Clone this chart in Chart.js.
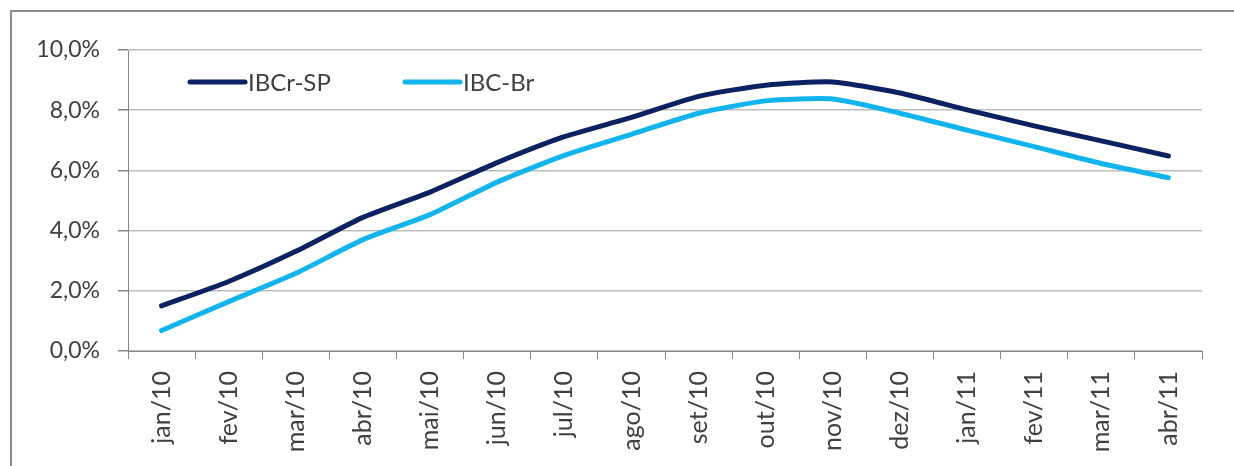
<!DOCTYPE html>
<html>
<head>
<meta charset="utf-8">
<script src="https://cdn.jsdelivr.net/npm/chart.js@4"></script>
<style>
  html, body { margin: 0; padding: 0; background: #fff; }
  #container { position: relative; width: 1234px; height: 466px; overflow: hidden; }
  #frame { position: absolute; left: 10px; top: 10px; right: 0; bottom: 0; border-left: 2px solid #8c8c8c; border-top: 2px solid #8c8c8c; }
  #chart { position: absolute; left: 0; top: 0; }
</style>
</head>
<body>
<div id="container">
  <div id="frame"></div>
  <canvas id="chart" width="1234" height="466"></canvas>
</div>
<script>
const months = ['jan/10', 'fev/10', 'mar/10', 'abr/10', 'mai/10', 'jun/10', 'jul/10', 'ago/10',
  'set/10', 'out/10', 'nov/10', 'dez/10', 'jan/11', 'fev/11', 'mar/11', 'abr/11'];
const ibcrSp = [1.50, 2.31, 3.31, 4.44, 5.28, 6.26, 7.12, 7.76, 8.46, 8.83, 8.94, 8.57, 8.01, 7.48, 6.98, 6.48];
const ibcBr = [0.68, 1.64, 2.58, 3.70, 4.53, 5.61, 6.50, 7.20, 7.90, 8.31, 8.37, 7.90, 7.34, 6.79, 6.23, 5.76];

const FONT = 'Lato';
const TEXT = '#404040';

// legend drawn inside the plot, top left
const insideLegend = {
  id: 'insideLegend',
  afterDatasetsDraw(chart) {
    const { ctx, chartArea } = chart;
    const slots = [62, 277];
    ctx.save();
    ctx.font = '24px ' + FONT;
    ctx.fillStyle = TEXT;
    ctx.textBaseline = 'middle';
    chart.data.datasets.forEach((ds, i) => {
      const x = chartArea.left + slots[i];
      const y = chartArea.top + 32;
      ctx.strokeStyle = ds.borderColor;
      ctx.lineWidth = 5;
      ctx.lineCap = 'round';
      ctx.beginPath();
      ctx.moveTo(x, y);
      ctx.lineTo(x + 55, y);
      ctx.stroke();
      ctx.fillText(ds.label, x + 58, y + 1);
    });
    ctx.restore();
  }
};

const context = document.getElementById('chart').getContext('2d');
const chart = new Chart(context, {
  type: 'line',
  data: {
    labels: months,
    datasets: [{
      label: 'IBCr-SP',
      data: ibcrSp,
      borderColor: '#0b2161',
      backgroundColor: '#0b2161',
      borderWidth: 5,
      pointRadius: 0,
      tension: 0.2,
      borderCapStyle: 'round',
      borderJoinStyle: 'round'
    }, {
      label: 'IBC-Br',
      data: ibcBr,
      borderColor: '#12b4ee',
      backgroundColor: '#12b4ee',
      borderWidth: 5,
      pointRadius: 0,
      tension: 0.2,
      borderCapStyle: 'round',
      borderJoinStyle: 'round'
    }]
  },
  options: {
    responsive: false,
    animation: false,
    devicePixelRatio: 1,
    layout: { padding: { left: 0, top: 50, right: 32, bottom: 0 } },
    plugins: {
      legend: { display: false },
      tooltip: { enabled: false }
    },
    scales: {
      x: {
        offset: true,
        grid: {
          offset: true,
          drawOnChartArea: false,
          tickLength: 8,
          tickColor: '#868686'
        },
        border: { color: '#868686', width: 1 },
        ticks: {
          minRotation: 90,
          maxRotation: 90,
          padding: 12,
          color: TEXT,
          font: { family: FONT, size: 25 }
        },
        afterFit: s => { s.height = 115; }
      },
      y: {
        min: 0,
        max: 10,
        grid: {
          color: '#bdbdbd',
          lineWidth: 1.5,
          tickLength: 10,
          tickColor: '#868686'
        },
        border: { color: '#868686', width: 1 },
        ticks: {
          stepSize: 2,
          padding: 18,
          color: TEXT,
          font: { family: FONT, size: 23 },
          callback: v => v.toFixed(1).replace('.', ',') + '%'
        },
        afterFit: s => { s.width = 128; }
      }
    }
  },
  plugins: [insideLegend]
});
</script>
</body>
</html>
